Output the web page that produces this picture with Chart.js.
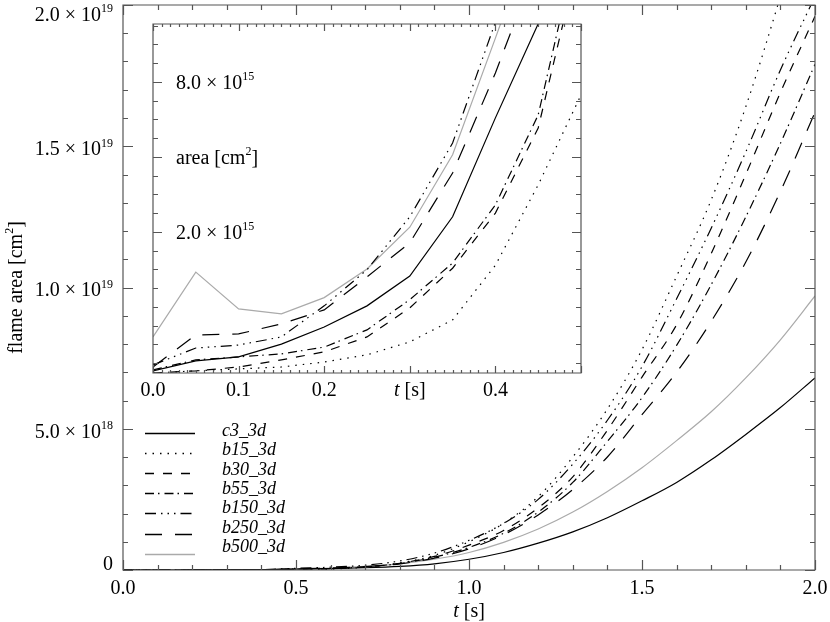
<!DOCTYPE html>
<html lang="en">
<head>
<meta charset="UTF-8">
<title>Flame area</title>
<style>
    body { margin: 0; background: #fff; }
    #wrap { position: relative; width: 830px; height: 622px; }
    #wrap canvas { position: absolute; left: 0; top: 0; }
</style>
<script src="https://cdn.jsdelivr.net/npm/chart.js"></script>
</head>
<body>
<div id="wrap">
    <canvas id="mainChart" width="830" height="622"></canvas>
    <canvas id="insetChart" width="830" height="622"></canvas>
</div>
<script>
// ---- data ----
var names = ['c3_3d', 'b15_3d', 'b30_3d', 'b55_3d', 'b150_3d', 'b250_3d', 'b500_3d'];

// main panel: time [s], flame area in units of 1e18 cm^2
var mainT = [0.0, 0.1, 0.2, 0.3, 0.4, 0.5, 0.6, 0.7, 0.8, 0.9, 1.0, 1.1, 1.2, 1.3, 1.4, 1.5, 1.6, 1.7, 1.8, 1.9, 2.0];
var c3   = [0.0006, 0.0006, 0.0008, 0.0013, 0.0057, 0.03, 0.05, 0.08, 0.13, 0.22, 0.38, 0.62, 0.95, 1.35, 1.85, 2.45, 3.1, 3.9, 4.8, 5.75, 6.8];
var b15  = [0.0005, 0.0006, 0.0006, 0.0007, 0.0015, 0.007, 0.03, 0.1, 0.25, 0.52, 1.0, 1.65, 2.6, 4.0, 5.7, 7.8, 10.4, 13.1, 16.4, 20.3, 24.5];
var b30  = [0.0005, 0.0006, 0.0007, 0.001, 0.0024, 0.028, 0.05, 0.11, 0.24, 0.48, 0.88, 1.4, 2.2, 3.3, 4.95, 6.83, 8.68, 11.2, 14.0, 16.9, 19.6];
var b55  = [0.0006, 0.0006, 0.0007, 0.0011, 0.0026, 0.033, 0.05, 0.11, 0.23, 0.45, 0.8, 1.3, 2.05, 3.1, 4.55, 6.1, 7.95, 10.1, 12.5, 15.1, 17.9];
var b150 = [0.0006, 0.0007, 0.001, 0.0023, 0.0139, 0.06, 0.1, 0.17, 0.32, 0.6, 1.05, 1.65, 2.5, 3.75, 5.3, 7.2, 9.6, 12.1, 14.8, 17.7, 20.3];
var b250 = [0.0006, 0.0008, 0.001, 0.0018, 0.0087, 0.04, 0.07, 0.12, 0.22, 0.42, 0.75, 1.25, 1.95, 2.85, 4.0, 5.5, 7.0, 8.8, 10.9, 13.4, 16.2];
var b500 = [0.0008, 0.001, 0.0011, 0.0021, 0.012, 0.05, 0.07, 0.13, 0.22, 0.38, 0.62, 0.98, 1.45, 2.05, 2.78, 3.62, 4.58, 5.6, 6.8, 8.15, 9.7];

// inset: early times, flame area in units of 1e15 cm^2 (log axis)
var insetT = [0.0, 0.05, 0.1, 0.15, 0.2, 0.25, 0.3, 0.35, 0.4, 0.45, 0.5];
var inC3   = [0.554, 0.607, 0.630, 0.709, 0.831, 1.01, 1.33, 2.30, 5.74, 13.7, 30];
var inB15  = [0.543, 0.554, 0.564, 0.574, 0.601, 0.642, 0.724, 0.887, 1.47, 3.09, 7.09];
var inB30  = [0.543, 0.554, 0.574, 0.613, 0.660, 0.758, 0.991, 1.43, 2.38, 5.23, 27.6];
var inB55  = [0.559, 0.613, 0.630, 0.648, 0.690, 0.809, 1.07, 1.50, 2.57, 5.90, 32.9];
var inB150 = [0.585, 0.684, 0.703, 0.758, 1.01, 1.41, 2.30, 4.55, 13.9, 41, 60];
var inB250 = [0.574, 0.772, 0.779, 0.855, 0.973, 1.32, 1.81, 3.45, 8.69, 24.7, 40];
var inB500 = [0.758, 1.38, 0.982, 0.938, 1.09, 1.42, 2.09, 4.08, 12.0, 35.8, 50];

// tick labels
var mainXTickVals = [0, 0.5, 1, 1.5, 2];
var mainXTickText = ['0.0', '0.5', '1.0', '1.5', '2.0'];
var mainYTickVals = [0, 5, 10, 15, 20];
var mainYTickText = ['0', '5.0 \u00d7 10^18', '1.0 \u00d7 10^19', '1.5 \u00d7 10^19', '2.0 \u00d7 10^19'];
var insetXTickVals = [0, 0.1, 0.2, 0.3, 0.4];
var insetXTickText = ['0.0', '0.1', '0.2', '{t} [s]', '0.4'];
var insetYTickVals = [8, 4, 2];
var insetYTickText = ['8.0 \u00d7 10^15', 'area [cm^2]', '2.0 \u00d7 10^15'];

// ---- styles ----
var FONT = '"Liberation Serif", "Times New Roman", serif';
var frameColor = '#555';
var lineColors = ['#000', '#000', '#000', '#000', '#000', '#000', '#aaa'];
var lineDashes = [[], [1.5, 6], [9, 9], [9, 4, 1.5, 5], [11, 5, 1.5, 5, 1.5, 5, 1.5, 5], [17, 13], []];

function makeSets(xs, cols, smooth) {
    return cols.map(function (arr, k) {
        return {
            label: names[k],
            data: xs.map(function (t, i) { return { x: t, y: arr[i] }; }),
            borderColor: lineColors[k],
            borderDash: lineDashes[k],
            borderWidth: 1.2,
            pointRadius: 0,
            fill: false,
            tension: 0,
            cubicInterpolationMode: smooth ? 'monotone' : 'default'
        };
    });
}

// text with ^digits as superscript and {x} as italic
function parse(text) {
    return text.split(/(\^\d+|\{[^}]*\})/).filter(Boolean).map(function (s) {
        if (s[0] === '^') return { t: s.slice(1), sup: true };
        if (s[0] === '{') return { t: s.slice(1, -1), it: true };
        return { t: s };
    });
}
function fontFor(p, size) {
    return (p.it ? 'italic ' : '') + (p.sup ? Math.round(size * 0.62) : size) + 'px ' + FONT;
}
function drawText(ctx, text, x, y, align, size) {
    var parts = parse(text), w = 0;
    parts.forEach(function (p) { ctx.font = fontFor(p, size); p.w = ctx.measureText(p.t).width; w += p.w; });
    var x0 = align === 'right' ? x - w : align === 'center' ? x - w / 2 : x;
    var base = y + size * 0.34;
    ctx.textAlign = 'left';
    ctx.textBaseline = 'alphabetic';
    parts.forEach(function (p) {
        ctx.font = fontFor(p, size);
        ctx.fillText(p.t, x0, p.sup ? base - size * 0.42 : base);
        x0 += p.w;
    });
}

// box with inward ticks on all four sides
function drawFrame(chart, xTicks, yTicks) {
    var ctx = chart.ctx, a = chart.chartArea, xs = chart.scales.x, ys = chart.scales.y;
    ctx.save();
    ctx.strokeStyle = frameColor;
    ctx.lineWidth = 1.2;
    ctx.setLineDash([]);
    ctx.beginPath();
    ctx.rect(a.left, a.top, a.right - a.left, a.bottom - a.top);
    xTicks.forEach(function (t) {
        var px = Math.round(xs.getPixelForValue(t.v)) + 0.5;
        ctx.moveTo(px, a.bottom); ctx.lineTo(px, a.bottom - t.len);
        ctx.moveTo(px, a.top); ctx.lineTo(px, a.top + t.len);
    });
    yTicks.forEach(function (t) {
        var py = Math.round(ys.getPixelForValue(t.v)) + 0.5;
        ctx.moveTo(a.left, py); ctx.lineTo(a.left + t.len, py);
        ctx.moveTo(a.right, py); ctx.lineTo(a.right - t.len, py);
    });
    ctx.stroke();
    ctx.restore();
}

var mainPlugin = {
    id: 'mainFrame',
    afterDatasetsDraw: function (chart) {
        var ctx = chart.ctx, a = chart.chartArea, xs = chart.scales.x, ys = chart.scales.y;
        var xt = [], yt = [], i;
        for (i = 0; i <= 20; i++) xt.push({ v: i / 10, len: i % 5 === 0 ? 10 : 5 });
        for (i = 0; i <= 20; i++) yt.push({ v: i, len: i % 5 === 0 ? 10 : 5 });
        drawFrame(chart, xt, yt);

        ctx.save();
        ctx.fillStyle = '#000';
        mainXTickVals.forEach(function (v, k) {
            drawText(ctx, mainXTickText[k], xs.getPixelForValue(v), 587, 'center', 20);
        });
        mainYTickVals.forEach(function (v, k) {
            var y = Math.min(Math.max(ys.getPixelForValue(v) + 2, 14), 563);
            drawText(ctx, mainYTickText[k], 113, y, 'right', 20);
        });
        drawText(ctx, '{t} [s]', (a.left + a.right) / 2, 610, 'center', 20);
        ctx.save();
        ctx.translate(15, (a.top + a.bottom) / 2);
        ctx.rotate(-Math.PI / 2);
        drawText(ctx, 'flame area [cm^2]', 0, 0, 'center', 20);
        ctx.restore();

        // legend
        chart.data.datasets.forEach(function (ds, k) {
            var ly = Math.round(433 + 20.1 * k) + 0.5;
            ctx.strokeStyle = ds.borderColor;
            ctx.lineWidth = 1.4;
            ctx.setLineDash(ds.borderDash);
            ctx.beginPath();
            ctx.moveTo(145, ly); ctx.lineTo(195, ly);
            ctx.stroke();
            ctx.setLineDash([]);
            ctx.font = 'italic 18px ' + FONT;
            ctx.textAlign = 'left';
            ctx.textBaseline = 'alphabetic';
            ctx.fillText(ds.label, 222, 436 + 19.3 * k);
        });
        ctx.restore();
    }
};

var insetPlugin = {
    id: 'insetFrame',
    beforeDatasetsDraw: function (chart) {
        var a = chart.chartArea;
        chart.ctx.save();
        chart.ctx.fillStyle = '#fff';
        chart.ctx.fillRect(a.left, a.top, a.right - a.left, a.bottom - a.top);
        chart.ctx.restore();
    },
    afterDatasetsDraw: function (chart) {
        var ctx = chart.ctx, xs = chart.scales.x, ys = chart.scales.y;
        var xt = [], yt = [], i;
        for (i = 0; i <= 50; i++) xt.push({ v: i / 100, len: i % 10 === 0 ? 7 : 3 });
        for (i = -7; i <= 11; i++) {
            var v = 2 * Math.pow(2, i / 4);
            if (v > ys.min && v < ys.max) yt.push({ v: v, len: (i % 4 === 0 && i >= 0) ? 9 : 5 });
        }
        drawFrame(chart, xt, yt);

        ctx.save();
        ctx.fillStyle = '#000';
        insetXTickVals.forEach(function (v, k) {
            drawText(ctx, insetXTickText[k], xs.getPixelForValue(v), 389, 'center', 20);
        });
        insetYTickVals.forEach(function (v, k) {
            drawText(ctx, insetYTickText[k], 176, ys.getPixelForValue(v), 'left', 20);
        });
        ctx.restore();
    }
};

function hiddenScale(extra) {
    var s = {
        ticks: { display: false },
        grid: { display: false },
        border: { display: false }
    };
    for (var k in extra) s[k] = extra[k];
    return s;
}

new Chart(document.getElementById('mainChart'), {
    type: 'line',
    data: { datasets: makeSets(mainT, [c3, b15, b30, b55, b150, b250, b500], true) },
    options: {
        responsive: false,
        animation: false,
        devicePixelRatio: 1,
        layout: { padding: { left: 123, right: 15, top: 5, bottom: 52 } },
        plugins: { legend: { display: false }, tooltip: { enabled: false } },
        scales: {
            x: hiddenScale({ type: 'linear', min: 0, max: 2, afterFit: function (s) { s.height = 0; } }),
            y: hiddenScale({ type: 'linear', min: 0, max: 20, afterFit: function (s) { s.width = 0; } })
        }
    },
    plugins: [mainPlugin]
});

new Chart(document.getElementById('insetChart'), {
    type: 'line',
    data: { datasets: makeSets(insetT, [inC3, inB15, inB30, inB55, inB150, inB250, inB500], false) },
    options: {
        responsive: false,
        animation: false,
        devicePixelRatio: 1,
        layout: { padding: { left: 153, right: 249, top: 24, bottom: 249 } },
        plugins: { legend: { display: false }, tooltip: { enabled: false } },
        scales: {
            x: hiddenScale({ type: 'linear', min: 0, max: 0.5, afterFit: function (s) { s.height = 0; } }),
            y: hiddenScale({ type: 'logarithmic', min: 0.543, max: 13.67, afterFit: function (s) { s.width = 0; } })
        }
    },
    plugins: [insetPlugin]
});
</script>
</body>
</html>
